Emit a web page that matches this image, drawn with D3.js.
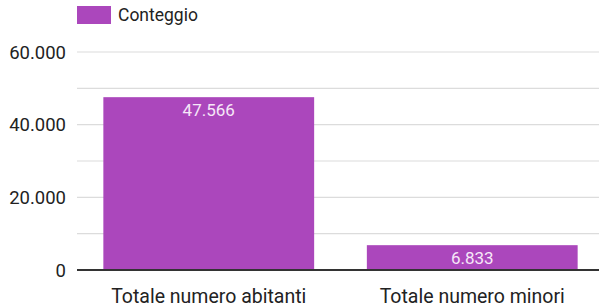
<!DOCTYPE html>
<html>
  <head>
    <script src="https://cdn.jsdelivr.net/npm/d3@7/dist/d3.min.js"></script>
    <style>
      body { margin: 0; background: #fff; }
      text { font-family: Roboto, "Noto Sans", sans-serif; }
    </style>
  </head>
  <body>
    <svg width="599" height="305" id="mainsvg"></svg>
    <script>
      const categories = ['Totale numero abitanti', 'Totale numero minori'];
      const values = [47566, 6833];
      const seriesName = 'Conteggio';
      const yTicks = [0, 10000, 20000, 30000, 40000, 50000, 60000];
      const yLabelTicks = [0, 20000, 40000, 60000];

      const svg = d3.select('#mainsvg');
      const margin = {top: 52, right: -5, bottom: 35, left: 77};
      const width = +svg.attr('width');
      const height = +svg.attr('height');
      const innerWidth = width - margin.left - margin.right;
      const innerHeight = height - margin.top - margin.bottom;
      const color = '#ab47bc';
      const fmt = d3.formatLocale({decimal: ',', thousands: '.', grouping: [3], currency: ['€', '']}).format(',d');

      const g = svg.append('g').attr('transform', `translate(${margin.left}, ${margin.top})`);

      const xScale = d3.scaleBand().domain(categories).range([0, innerWidth])
        .paddingInner(0.2).paddingOuter(0.1);
      const yScale = d3.scaleLinear().domain([0, 60000]).range([innerHeight, 0]);

      // gridlines
      g.selectAll('.grid').data(yTicks.filter(d => d > 0)).enter().append('line')
        .attr('x1', 0).attr('x2', width - margin.left)
        .attr('y1', d => yScale(d)).attr('y2', d => yScale(d))
        .attr('stroke', '#dcdcdc').attr('stroke-width', 1.2);

      // y labels
      g.selectAll('.ylab').data(yLabelTicks).enter().append('text')
        .attr('x', -11).attr('y', d => yScale(d)).attr('dy', '0.36em')
        .attr('text-anchor', 'end').attr('font-size', 18.5).attr('fill', '#222')
        .text(d => fmt(d));

      // bars
      g.selectAll('.bar').data(values).enter().append('rect')
        .attr('x', (d, i) => xScale(categories[i]))
        .attr('width', xScale.bandwidth())
        .attr('y', d => yScale(d))
        .attr('height', d => innerHeight - yScale(d))
        .attr('fill', color);

      // value labels
      g.selectAll('.vlab').data(values).enter().append('text')
        .attr('x', (d, i) => xScale(categories[i]) + xScale.bandwidth() / 2)
        .attr('y', d => yScale(d) + 13).attr('dy', '0.36em')
        .attr('text-anchor', 'middle').attr('font-size', 17).attr('fill', '#f6e8f8')
        .text(d => fmt(d));

      // baseline
      g.append('line').attr('x1', 0).attr('x2', width - margin.left)
        .attr('y1', innerHeight).attr('y2', innerHeight)
        .attr('stroke', '#333').attr('stroke-width', 1.8);

      // category labels
      g.selectAll('.xlab').data(categories).enter().append('text')
        .attr('x', d => xScale(d) + xScale.bandwidth() / 2)
        .attr('y', innerHeight + 26).attr('dy', '0.36em')
        .attr('text-anchor', 'middle').attr('font-size', 19.5).attr('fill', '#222')
        .text(d => d);

      // legend
      const lg = svg.append('g').attr('transform', 'translate(77, 6)');
      lg.append('rect').attr('width', 34).attr('height', 18).attr('fill', color);
      lg.append('text').attr('x', 41).attr('y', 9).attr('dy', '0.36em')
        .attr('font-size', 17.5).attr('fill', '#222').text(seriesName);
    </script>
  </body>
</html>
